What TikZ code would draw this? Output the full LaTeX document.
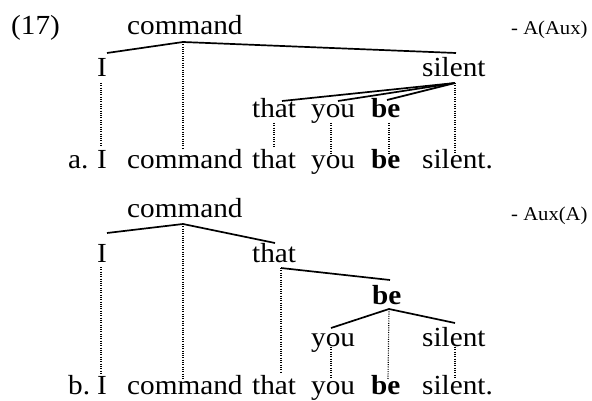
\documentclass[tikz,border=0pt]{standalone}
\usepackage{fontspec}
\setmainfont{Liberation Serif}[FakeStretch=1.06]
\begin{document}
\begin{tikzpicture}[x=1pt,y=-1pt,
  w/.style={anchor=base west,inner sep=0pt,font=\fontsize{27.6}{32}\selectfont},
  lbl/.style={anchor=base west,inner sep=0pt,font=\fontsize{19.5}{24}\selectfont},
  br/.style={line width=1.7pt},
  dt/.style={line width=1.15pt,dash pattern=on 1pt off 1.3pt}]
\useasboundingbox (0,0) rectangle (592,401);
% ---------- (a) ----------
\node[w] (n17) at (11,35) {(17)};
\node[w] (cA) at (127,35) {command};
\node[lbl] (lblA) at (511,35) {- A(Aux)};
\node[w] (IA) at (97,77) {I};
\node[w] (sA) at (422,77) {silent};
\node[w] (tA) at (252,118) {that};
\node[w] (yA) at (311,118) {you};
\node[w] (bA) at (371,118) {\textbf{be}};
\node[w] (aA) at (68,169) {a.};
\node[w] (IA2) at (97,169) {I};
\node[w] (cA2) at (127,169) {command};
\node[w] (tA2) at (252,169) {that};
\node[w] (yA2) at (311,169) {you};
\node[w] (bA2) at (371,169) {\textbf{be}};
\node[w] (sA2) at (422,169) {silent.};
\draw[br] ([shift={(10,-24)}]IA.base west) -- ([shift={(56,7)}]cA.base west) -- ([shift={(34,-24)}]sA.base west);
\draw[dt] ([shift={(56,7)}]cA.base west) -- ([shift={(56,-20)}]cA2.base west);
\draw[dt] ([shift={(4,6)}]IA.base west) -- ([shift={(4,-22)}]IA2.base west);
\draw[br] ([shift={(33,6)}]sA.base west) -- ([shift={(30,-17)}]tA.base west);
\draw[br] ([shift={(33,6)}]sA.base west) -- ([shift={(27,-17)}]yA.base west);
\draw[br] ([shift={(33,6)}]sA.base west) -- ([shift={(16,-18)}]bA.base west);
\draw[dt] ([shift={(33,6)}]sA.base west) -- ([shift={(33,-16)}]sA2.base west);
\draw[dt] ([shift={(22,5)}]tA.base west) -- ([shift={(22,-21)}]tA2.base west);
\draw[dt] ([shift={(20,5)}]yA.base west) -- ([shift={(20,-15)}]yA2.base west);
\draw[dt] ([shift={(18,5)}]bA.base west) -- ([shift={(18,-15)}]bA2.base west);
% ---------- (b) ----------
\node[w] (cB) at (127,217) {command};
\node[lbl] (lblB) at (511,220) {- Aux(A)};
\node[w] (IB) at (97,262) {I};
\node[w] (tB) at (252,262) {that};
\node[w] (bB) at (372,304) {\textbf{be}};
\node[w] (yB) at (311,346) {you};
\node[w] (sB) at (422,346) {silent};
\node[w] (aB) at (68,394) {b.};
\node[w] (IB2) at (97,394) {I};
\node[w] (cB2) at (127,394) {command};
\node[w] (tB2) at (252,394) {that};
\node[w] (yB2) at (311,394) {you};
\node[w] (bB2) at (371,394) {\textbf{be}};
\node[w] (sB2) at (422,394) {silent.};
\draw[br] ([shift={(10,-29)}]IB.base west) -- ([shift={(56,7)}]cB.base west) -- ([shift={(23,-19)}]tB.base west);
\draw[dt] ([shift={(56,7)}]cB.base west) -- ([shift={(56,-15)}]cB2.base west);
\draw[dt] ([shift={(4,5)}]IB.base west) -- ([shift={(4,-21)}]IB2.base west);
\draw[br] ([shift={(29,6)}]tB.base west) -- ([shift={(18,-24)}]bB.base west);
\draw[dt] ([shift={(29,6)}]tB.base west) -- ([shift={(29,-21)}]tB2.base west);
\draw[br] ([shift={(20,-18)}]yB.base west) -- ([shift={(17,5)}]bB.base west) -- ([shift={(33,-23)}]sB.base west);
\draw[dt] ([shift={(17,5)}]bB.base west) -- ([shift={(17,-15)}]bB2.base west);
\draw[dt] ([shift={(20,1)}]yB.base west) -- ([shift={(20,-15)}]yB2.base west);
\draw[dt] ([shift={(33,1)}]sB.base west) -- ([shift={(33,-16)}]sB2.base west);
\end{tikzpicture}
\end{document}
